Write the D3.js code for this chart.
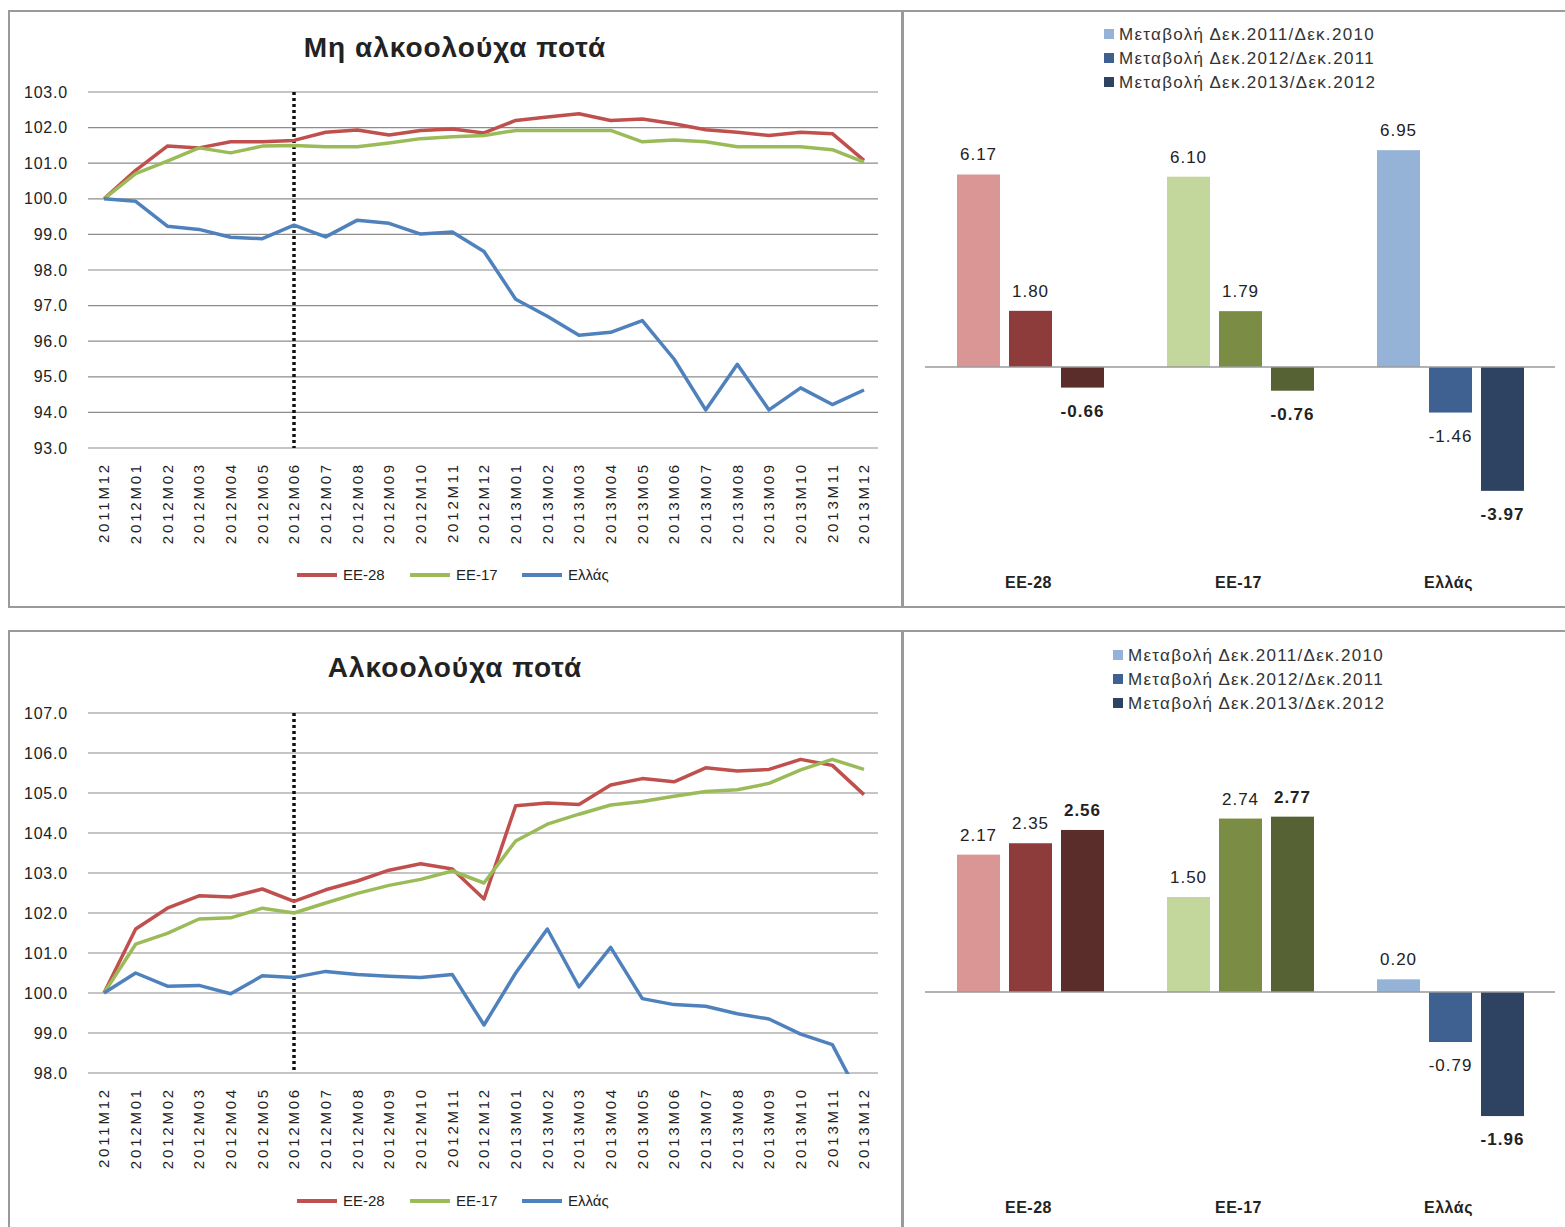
<!DOCTYPE html>
<html>
<head>
<meta charset="utf-8">
<script src="https://d3js.org/d3.v7.min.js"></script>
<style>
  body { margin: 0; background: #fff; }
  text { font-family: "Liberation Sans", Arial, sans-serif; fill: #222; }
</style>
</head>
<body>
<div id="chart"></div>
<script>
// Months on the x axis
var months = ["2011M12",
  "2012M01","2012M02","2012M03","2012M04","2012M05","2012M06",
  "2012M07","2012M08","2012M09","2012M10","2012M11","2012M12",
  "2013M01","2013M02","2013M03","2013M04","2013M05","2013M06",
  "2013M07","2013M08","2013M09","2013M10","2013M11","2013M12"];

// Non-alcoholic drinks index (Dec 2011 = 100)
var eu28Soft = [100.0, 100.8, 101.48, 101.43, 101.6, 101.6, 101.64, 101.87, 101.93, 101.79, 101.92, 101.96, 101.85,
  102.2, 102.3, 102.39, 102.2, 102.24, 102.11, 101.94, 101.87, 101.78, 101.87, 101.83, 101.08];
var eu17Soft = [100.0, 100.71, 101.06, 101.43, 101.29, 101.48, 101.5, 101.46, 101.46, 101.57, 101.69, 101.74, 101.78,
  101.92, 101.92, 101.92, 101.92, 101.6, 101.65, 101.6, 101.46, 101.46, 101.46, 101.38, 101.03];
var grSoft = [100.0, 99.93, 99.23, 99.14, 98.92, 98.88, 99.26, 98.93, 99.4, 99.31, 99.01, 99.07, 98.52,
  97.18, 96.7, 96.17, 96.25, 96.58, 95.5, 94.07, 95.35, 94.07, 94.69, 94.22, 94.63];

// Alcoholic drinks index
var eu28Alc = [100.0, 101.6, 102.12, 102.43, 102.4, 102.6, 102.29, 102.58, 102.8, 103.07, 103.23, 103.1, 102.35,
  104.68, 104.75, 104.71, 105.2, 105.36, 105.28, 105.63, 105.55, 105.59, 105.84, 105.69, 104.96];
var eu17Alc = [100.0, 101.22, 101.49, 101.85, 101.88, 102.12, 102.0, 102.25, 102.49, 102.69, 102.84, 103.05, 102.75,
  103.8, 104.22, 104.47, 104.7, 104.79, 104.92, 105.04, 105.08, 105.24, 105.58, 105.84, 105.59];
var grAlc = [100.0, 100.5, 100.17, 100.19, 99.98, 100.43, 100.39, 100.54, 100.46, 100.42, 100.39, 100.46, 99.2,
  100.5, 101.6, 100.15, 101.14, 99.86, 99.71, 99.67, 99.48, 99.35, 98.97, 98.71, 97.2];

var lineNames = ["ΕΕ-28", "ΕΕ-17", "Ελλάς"];

// Bar charts: yearly change Dec/Dec
var regions = ["ΕΕ-28", "ΕΕ-17", "Ελλάς"];
var periods = ["Μεταβολή Δεκ.2011/Δεκ.2010", "Μεταβολή Δεκ.2012/Δεκ.2011", "Μεταβολή Δεκ.2013/Δεκ.2012"];
var softChange = [[6.17, 1.80, -0.66], [6.10, 1.79, -0.76], [6.95, -1.46, -3.97]];
var alcChange = [[2.17, 2.35, 2.56], [1.50, 2.74, 2.77], [0.20, -0.79, -1.96]];

var lineColors = ["#c0504d", "#9bbb59", "#4f81bd"];
var barColors = [
  ["#d99694", "#8e3b3b", "#5a2c2a"],
  ["#c3d69b", "#7b8c45", "#566134"],
  ["#95b3d7", "#3e6192", "#2e4262"]
];

var svg = d3.select("#chart").append("svg")
  .attr("width", 1565)
  .attr("height", 1227);

// Panel borders
[[9, 11, 893, 596], [903, 11, 670, 596], [9, 631, 893, 620], [903, 631, 670, 620]].forEach(function (r) {
  svg.append("rect")
    .attr("x", r[0]).attr("y", r[1])
    .attr("width", r[2]).attr("height", r[3])
    .attr("fill", "none")
    .attr("stroke", "#9a9a9a")
    .attr("stroke-width", 2);
});

function drawLines(opts) {
  var g = svg.append("g");
  var x = d3.scalePoint().domain(months).range([104, 864]);
  var y = d3.scaleLinear().domain(opts.domain).range([opts.bottom, opts.top]);

  //Title
  g.append("text")
    .attr("x", 455)
    .attr("y", opts.titleY)
    .attr("text-anchor", "middle")
    .style("font-size", "28px")
    .style("letter-spacing", "1px")
    .style("font-weight", "bold")
    .text(opts.title);

  //Gridlines + y labels
  var ticks = d3.range(opts.domain[0], opts.domain[1] + 0.5, 1);
  g.selectAll(".grid").data(ticks).enter().append("line")
    .attr("x1", 88).attr("x2", 878)
    .attr("y1", function (d) { return y(d); })
    .attr("y2", function (d) { return y(d); })
    .attr("stroke", "#8c8c8c")
    .attr("stroke-width", 1.2);
  g.selectAll(".ylab").data(ticks).enter().append("text")
    .attr("x", 68)
    .attr("y", function (d) { return y(d); })
    .attr("dy", "0.35em")
    .attr("text-anchor", "end")
    .style("font-size", "16px")
    .style("letter-spacing", "0.8px")
    .text(function (d) { return d.toFixed(1); });

  //X labels (rotated)
  g.selectAll(".xlab").data(months).enter().append("text")
    .attr("transform", function (d) { return "translate(" + x(d) + "," + (opts.bottom + 14) + ") rotate(-90)"; })
    .attr("dy", "0.35em")
    .attr("text-anchor", "end")
    .style("font-size", "15px")
    .style("letter-spacing", "2.8px")
    .text(function (d) { return d; });

  //Dotted marker at 2012M06
  g.append("line")
    .attr("x1", x("2012M06")).attr("x2", x("2012M06"))
    .attr("y1", opts.top).attr("y2", opts.bottom)
    .attr("stroke", "#111")
    .attr("stroke-width", 3.5)
    .attr("stroke-dasharray", "3,3");

  var clipId = "clip" + opts.titleY;
  g.append("clipPath").attr("id", clipId)
    .append("rect")
    .attr("x", 80).attr("y", opts.top - 10)
    .attr("width", 810).attr("height", opts.bottom - opts.top + 11);

  var line = d3.line()
    .x(function (d, i) { return x(months[i]); })
    .y(function (d) { return y(d); });

  opts.series.forEach(function (s, i) {
    g.append("path")
      .datum(s)
      .attr("clip-path", "url(#" + clipId + ")")
      .attr("fill", "none")
      .attr("stroke", lineColors[i])
      .attr("stroke-width", 3.5)
      .attr("stroke-linejoin", "round")
      .attr("d", line);
  });

  //Legend
  var lx = [297, 410, 522];
  lineNames.forEach(function (n, i) {
    g.append("line")
      .attr("x1", lx[i]).attr("x2", lx[i] + 40)
      .attr("y1", opts.legendY).attr("y2", opts.legendY)
      .attr("stroke", lineColors[i])
      .attr("stroke-width", 4);
    g.append("text")
      .attr("x", lx[i] + 46)
      .attr("y", opts.legendY)
      .attr("dy", "0.35em")
      .style("font-size", "15px")
      .text(n);
  });
}

function drawBars(opts) {
  var g = svg.append("g");
  var x0 = d3.scaleBand().domain(regions).range([923, 1553]);
  var x1 = d3.scaleBand().domain([0, 1, 2]).range([34, 181]).paddingInner(0.173);
  var y = d3.scaleLinear().domain(opts.domain).range([opts.bottom, opts.top]);

  //Legend
  periods.forEach(function (p, i) {
    var ly = opts.legendY + i * 24;
    g.append("rect")
      .attr("x", opts.legendX).attr("y", ly - 5)
      .attr("width", 10).attr("height", 10)
      .attr("fill", barColors[2][i]);
    g.append("text")
      .attr("x", opts.legendX + 15)
      .attr("y", ly)
      .attr("dy", "0.35em")
      .style("font-size", "17px")
      .style("letter-spacing", "1.3px")
      .style("fill", "#333")
      .text(p);
  });

  regions.forEach(function (r, ri) {
    var grp = g.append("g").attr("transform", "translate(" + x0(r) + ",0)");
    grp.selectAll("rect").data(opts.values[ri]).enter().append("rect")
      .attr("x", function (d, i) { return x1(i); })
      .attr("width", x1.bandwidth())
      .attr("y", function (d) { return y(Math.max(0, d)); })
      .attr("height", function (d) { return Math.abs(y(d) - y(0)); })
      .attr("fill", function (d, i) { return barColors[ri][i]; });
    grp.selectAll("text").data(opts.values[ri]).enter().append("text")
      .attr("x", function (d, i) { return x1(i) + x1.bandwidth() / 2; })
      .attr("y", function (d) { return d >= 0 ? y(d) - 14 : y(d) + 29; })
      .attr("text-anchor", "middle")
      .style("font-size", "17px")
      .style("letter-spacing", "1px")
      .style("font-weight", function (d, i) { return i === 2 ? "bold" : "normal"; })
      .text(function (d) { return d.toFixed(2); });

    //Category label, under the middle bar
    grp.append("text")
      .attr("x", x1(1) + x1.bandwidth() / 2 - 2)
      .attr("y", opts.catY)
      .attr("text-anchor", "middle")
      .style("font-size", "16px")
      .style("letter-spacing", "0.5px")
      .style("font-weight", "bold")
      .text(r);
  });

  //Zero line
  g.append("line")
    .attr("x1", 925).attr("x2", 1555)
    .attr("y1", y(0)).attr("y2", y(0))
    .attr("stroke", "#9a9a9a")
    .attr("stroke-width", 1.5);
}

drawLines({ title: "Μη αλκοολούχα ποτά", titleY: 57, domain: [93, 103], top: 92, bottom: 448,
  series: [eu28Soft, eu17Soft, grSoft], legendY: 575 });
drawLines({ title: "Αλκοολούχα ποτά", titleY: 677, domain: [98, 107], top: 713, bottom: 1073,
  series: [eu28Alc, eu17Alc, grAlc], legendY: 1201 });

drawBars({ values: softChange, domain: [-5, 8], top: 117.4, bottom: 523, legendX: 1104, legendY: 34, catY: 588 });
drawBars({ values: alcChange, domain: [-3, 4], top: 738.8, bottom: 1181.9, legendX: 1113, legendY: 655, catY: 1213 });
</script>
</body>
</html>
